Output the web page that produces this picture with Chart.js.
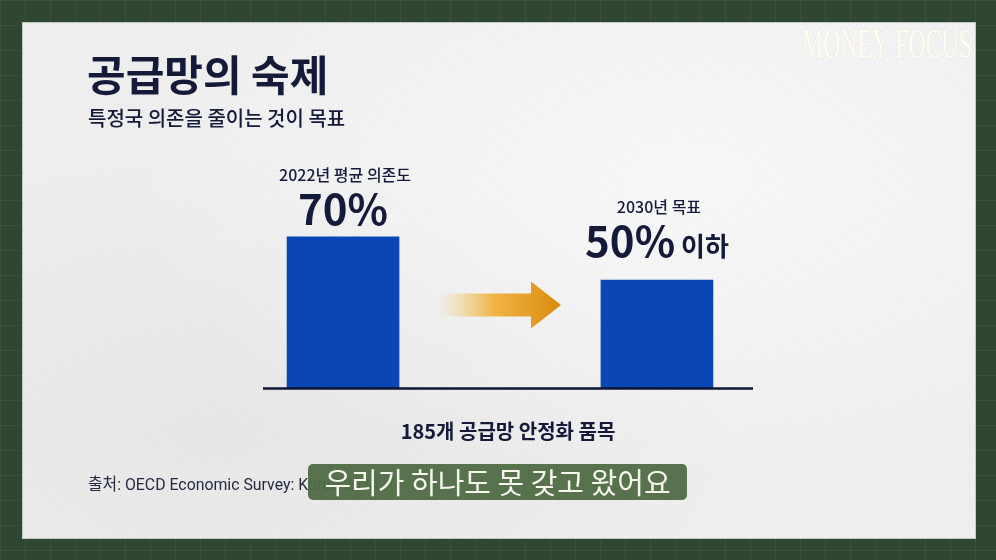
<!DOCTYPE html>
<html lang="ko">
<head>
<meta charset="utf-8">
<title>공급망의 숙제</title>
<script src="https://cdn.jsdelivr.net/npm/chart.js@4.4.1/dist/chart.umd.min.js"></script>
<style>
  html, body { margin: 0; padding: 0; }
  body {
    width: 996px; height: 560px; overflow: hidden; position: relative;
    background-color: #2f4731;
    background-image:
      linear-gradient(rgba(255,255,255,0.05) 1px, transparent 1px),
      linear-gradient(90deg, rgba(255,255,255,0.05) 1px, transparent 1px);
    background-size: 25px 25px;
  }
  .paper {
    position: absolute; left: 23px; top: 23px; width: 952px; height: 515px;
    background-color: #efefef;
    background-image:
      repeating-linear-gradient(115deg, rgba(0,0,0,0.018) 0 1px, transparent 1px 4px),
      radial-gradient(ellipse at 70% 30%, rgba(255,255,255,0.6), rgba(255,255,255,0) 60%),
      radial-gradient(ellipse at 20% 80%, rgba(0,0,0,0.03), rgba(0,0,0,0) 50%);
    box-shadow: 0 0 0 1px rgba(255,255,255,0.7);
  }
  #chart { position: absolute; left: 0; top: 0; }
</style>
</head>
<body>
<div class="paper"></div>
<canvas id="chart" width="996" height="560"></canvas>
<script>
// chart data
const categories = ['2022년 평균 의존도', '2030년 목표'];
const dependence = [70, 50];
const valueLabels = ['70%', '50%'];
const valueSuffix = ['', '이하'];
const xAxisTitle = '185개 공급망 안정화 품목';

const navy = '#141a38';
const krFont = '"Noto Sans CJK KR", "Noto Sans", sans-serif';

// arrow between the two bars
const arrowPlugin = {
    id: 'arrow',
    beforeDatasetsDraw(chart) {
        const ctx = chart.ctx;
        const bars = chart.getDatasetMeta(0).data;
        const midX = (bars[0].x + bars[1].x) / 2;
        const cy = chart.scales.y.getPixelForValue(0) - 83;
        const x0 = midX - 62, x1 = midX + 31, tip = midX + 61;
        const g = ctx.createLinearGradient(x0, 0, tip, 0);
        g.addColorStop(0, 'rgba(246,196,96,0)');
        g.addColorStop(0.45, 'rgba(238,170,40,0.85)');
        g.addColorStop(1, '#d88a0c');
        ctx.save();
        ctx.fillStyle = g;
        ctx.beginPath();
        ctx.moveTo(x0, cy - 11.5);
        ctx.lineTo(x1, cy - 11.5);
        ctx.lineTo(x1, cy - 23.5);
        ctx.lineTo(tip, cy);
        ctx.lineTo(x1, cy + 23.5);
        ctx.lineTo(x1, cy + 11.5);
        ctx.lineTo(x0, cy + 11.5);
        ctx.closePath();
        ctx.fill();
        ctx.restore();
    }
};

// texts, baseline, caption
const textPlugin = {
    id: 'texts',
    afterDatasetsDraw(chart) {
        const ctx = chart.ctx;
        const area = chart.chartArea;
        const y0 = chart.scales.y.getPixelForValue(0);
        const bars = chart.getDatasetMeta(0).data;
        const lift = [0, 11];
        ctx.save();

        // baseline
        ctx.strokeStyle = '#0f1535';
        ctx.lineWidth = 2.5;
        ctx.beginPath();
        ctx.moveTo(area.left, y0 + 0.5);
        ctx.lineTo(area.right, y0 + 0.5);
        ctx.stroke();

        ctx.fillStyle = navy;
        ctx.textBaseline = 'middle';
        ctx.textAlign = 'left';
        ctx.font = 'bold 42px ' + krFont;
        ctx.fillText('공급망의 숙제', 87, 75);
        ctx.font = '500 20px ' + krFont;
        ctx.fillText('특정국 의존을 줄이는 것이 목표', 88, 118);

        bars.forEach((bar, i) => {
            ctx.textAlign = 'center';
            ctx.textBaseline = 'middle';
            ctx.font = '500 16px ' + krFont;
            ctx.fillText(categories[i], bar.x + 2, bar.y - 62 - lift[i]);

            ctx.textAlign = 'left';
            ctx.textBaseline = 'alphabetic';
            ctx.font = 'bold 42px ' + krFont;
            const w1 = ctx.measureText(valueLabels[i]).width;
            let w2 = 0;
            if (valueSuffix[i]) {
                ctx.font = 'bold 26px ' + krFont;
                w2 = ctx.measureText(' ' + valueSuffix[i]).width;
            }
            const sx = bar.x - (w1 + w2) / 2;
            const by = bar.y - 12 - lift[i];
            ctx.font = 'bold 42px ' + krFont;
            ctx.fillText(valueLabels[i], sx, by);
            if (valueSuffix[i]) {
                ctx.font = 'bold 26px ' + krFont;
                ctx.fillText(' ' + valueSuffix[i], sx + w1, by - 1);
            }
        });

        ctx.textAlign = 'center';
        ctx.textBaseline = 'middle';
        ctx.font = 'bold 20px ' + krFont;
        ctx.fillText(xAxisTitle, (area.left + area.right) / 2, 431);

        // source line (condensed)
        ctx.fillStyle = '#262a40';
        ctx.textAlign = 'left';
        ctx.font = '17px Roboto, ' + krFont;
        const k = Math.min(1, 229 / ctx.measureText('출처: OECD Economic Survey: Ko').width);
        ctx.save();
        ctx.translate(88, 486);
        ctx.scale(k, 1);
        ctx.fillText('출처: OECD Economic Survey: Korea 2024', 0, 0);
        ctx.restore();

        // caption box
        ctx.fillStyle = 'rgba(80,108,70,0.96)';
        ctx.beginPath();
        ctx.roundRect(308, 464, 379, 36, 5);
        ctx.fill();
        ctx.fillStyle = '#f6f6ee';
        ctx.textAlign = 'center';
        ctx.font = '29px ' + krFont;
        ctx.fillText('우리가 하나도 못 갖고 왔어요', 497.5, 483, 372);

        // watermark
        ctx.fillStyle = 'rgba(255,252,238,0.95)';
        ctx.strokeStyle = 'rgba(0,0,0,0.06)';
        ctx.lineWidth = 1;
        ctx.font = '42px "Liberation Serif", serif';
        ctx.textAlign = 'left';
        ctx.textBaseline = 'alphabetic';
        ctx.strokeText('MONEY FOCUS', 802, 58, 170);
        ctx.fillText('MONEY FOCUS', 802, 58, 170);

        ctx.restore();
    }
};

new Chart(document.getElementById('chart').getContext('2d'), {
    type: 'bar',
    data: {
        datasets: [{
            data: dependence.map((v, i) => ({ x: i, y: v })),
            backgroundColor: '#0a46b5',
            borderWidth: 0,
            barThickness: 112
        }]
    },
    options: {
        responsive: false,
        animation: false,
        layout: { padding: { left: 263, right: 243, top: 172, bottom: 172 } },
        scales: {
            x: { type: 'linear', min: -0.255, max: 1.306, offset: false, display: false },
            y: { min: 0, max: 100, display: false }
        },
        plugins: {
            legend: { display: false },
            tooltip: { enabled: false }
        }
    },
    plugins: [arrowPlugin, textPlugin]
});
</script>
</body>
</html>
